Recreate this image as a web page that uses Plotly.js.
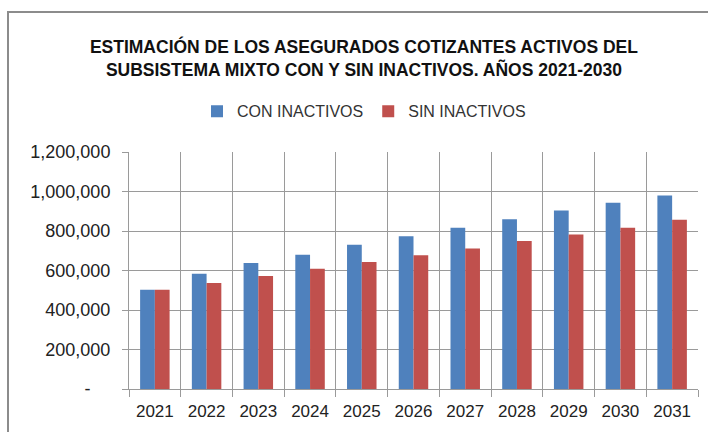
<!DOCTYPE html>
<html><head><meta charset="utf-8">
<script src="https://cdn.plot.ly/plotly-3.0.1.min.js"></script>
<style>html,body{margin:0;padding:0;background:#fff}#chart{width:708px;height:432px}</style>
</head><body><div id="chart"></div>
<script>
const years = ['2021','2022','2023','2024','2025','2026','2027','2028','2029','2030','2031'];
const conInactivos = [503000, 584000, 638000, 680000, 730000, 774000, 817000, 860000, 904000, 943000, 980000];
const sinInactivos = [503000, 537000, 572000, 609000, 643000, 677000, 711000, 750000, 782000, 816000, 857000];
const yTickVals = [0, 200000, 400000, 600000, 800000, 1000000, 1200000];
const yTickText = ['-\u00a0\u00a0\u00a0\u00a0', '200,000', '400,000', '600,000', '800,000', '1,000,000', '1,200,000'];

const traces = [
  {type:'bar', name:'CON INACTIVOS', x:years, y:conInactivos, marker:{color:'#4F81BD'}},
  {type:'bar', name:'SIN INACTIVOS', x:years, y:sinInactivos, marker:{color:'#C0504D'}}
];
const grid = '#9a9a9a';
const layout = {
  width:708, height:432,
  margin:{l:129, r:10, t:152, b:43},
  paper_bgcolor:'#fff', plot_bgcolor:'#fff',
  font:{family:'Liberation Sans, Arial, sans-serif', color:'#333', size:17},
  title:{text:'ESTIMACIÓN DE LOS ASEGURADOS COTIZANTES ACTIVOS DEL<br>SUBSISTEMA MIXTO CON Y SIN INACTIVOS. AÑOS 2021-2030',
    font:{family:'Liberation Sans, Arial, sans-serif', size:17.5, color:'#111', weight:'bold'},
    xref:'container', x:0.514, xanchor:'center', yref:'container', y:1-53/432, yanchor:'middle'},
  barmode:'group', bargap:0.43, bargroupgap:0,
  showlegend:true,
  legend:{orientation:'h', x:0.413, xanchor:'center', y:1.172, yanchor:'middle',
    font:{family:'Liberation Sans, Arial, sans-serif', size:16, color:'#333'},
    itemwidth:30, traceorder:'normal'},
  xaxis:{type:'category', tickson:'boundaries', showgrid:true, gridcolor:grid, gridwidth:1,
    ticks:'outside', ticklen:7, tickcolor:grid, showline:true, linecolor:grid, linewidth:1,
    ticklabelstandoff:7, tickfont:{size:17, color:'#222'}, fixedrange:true},
  yaxis:{range:[0,1200000], tickvals:yTickVals, ticktext:yTickText, showgrid:true, gridcolor:grid, gridwidth:1,
    ticks:'outside', ticklen:6, tickcolor:grid, showline:true, linecolor:grid, linewidth:1, zeroline:false,
    ticklabelstandoff:8, tickfont:{size:18, color:'#222'}, fixedrange:true},
  shapes:[{type:'rect', xref:'paper', yref:'paper', x0:(8-129)/569, x1:1.2, y0:-0.5, y1:(389-12)/237,
    line:{color:'#8c8c8c', width:2}, fillcolor:'rgba(0,0,0,0)', layer:'below'}]
};
Plotly.newPlot('chart', traces, layout, {displayModeBar:false, staticPlot:true});
</script></body></html>
